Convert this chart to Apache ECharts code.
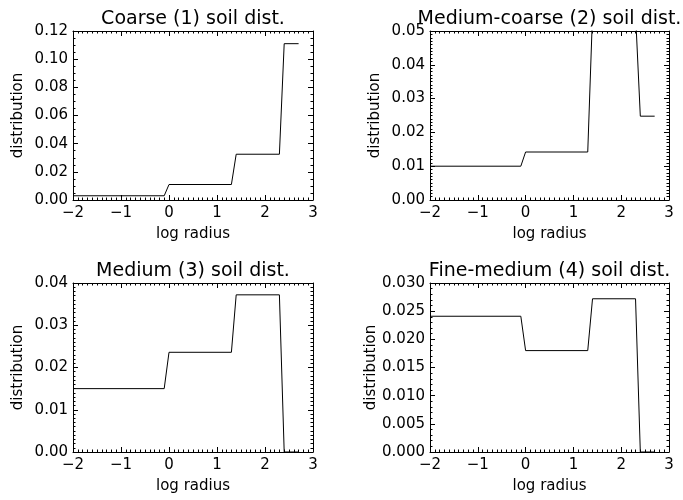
<!DOCTYPE html>
<html>
<head>
<meta charset="utf-8">
<title>Soil size distributions</title>
<script src="https://cdn.jsdelivr.net/npm/echarts@6/dist/echarts.min.js"></script>
<style>
  html, body { margin: 0; padding: 0; background: #fff; }
  #chart { width: 683px; height: 500px; }
</style>
</head>
<body>
<div id="chart"></div>
<script>
// break points of the piecewise distributions (log radius)
const logRadius = [-2, -0.1, 0, 1.3, 1.4, 2.3, 2.4, 2.7];

const coarse = [0.003, 0.003, 0.011, 0.011, 0.0325, 0.0325, 0.111, 0.111];
const mediumCoarse = [0.010, 0.010, 0.0142, 0.0142, 0.055, 0.055, 0.0248, 0.0248];
const medium = [0.015, 0.015, 0.0236, 0.0236, 0.0372, 0.0372, 0, 0];
const fineMedium = [0.0241, 0.0241, 0.018, 0.018, 0.0272, 0.0272, 0, 0];

const titles = [
  'Coarse (1) soil dist.',
  'Medium-coarse (2) soil dist.',
  'Medium (3) soil dist.',
  'Fine-medium (4) soil dist.'
];
const yMax = [0.12, 0.05, 0.04, 0.03];
const yStep = [0.02, 0.01, 0.01, 0.005];
const yDigits = [2, 2, 2, 3];
const yMinorSplit = [4, 10, 10, 5];
const xTicks = { min: -2, max: 3, interval: 1 };

const seriesData = [coarse, mediumCoarse, medium, fineMedium];

const chart = echarts.init(document.getElementById('chart'));

const font = 'DejaVu Sans';
const black = '#000';

// plot boxes in pixels
const boxes = [
  { left: 73, top: 31, width: 240, height: 169 },
  { left: 430, top: 31, width: 239, height: 169 },
  { left: 73, top: 283, width: 240, height: 169 },
  { left: 430, top: 283, width: 239, height: 169 }
];

const grid = [], xAxis = [], yAxis = [], series = [], title = [];

boxes.forEach((b, i) => {
  grid.push({ left: b.left, top: b.top, width: b.width, height: b.height, containLabel: false });

  title.push({
    text: titles[i],
    left: b.left + b.width / 2,
    top: b.top - 21,
    textAlign: 'center',
    padding: 0,
    textStyle: { fontFamily: font, fontSize: 19, fontWeight: 'normal', color: black }
  });

  const tickStyle = {
    axisLine: { show: true, onZero: false, lineStyle: { color: black, width: 1 } },
    axisTick: { show: true, inside: true, length: 5, lineStyle: { color: black } },
    splitLine: { show: false }
  };

  // bottom x axis with labels, top mirror
  xAxis.push(Object.assign({
    type: 'value', gridIndex: i, position: 'bottom',
    min: xTicks.min, max: xTicks.max, interval: xTicks.interval,
    name: 'log radius', nameLocation: 'middle', nameGap: 27,
    nameTextStyle: { fontFamily: font, fontSize: 15, color: black },
    axisLabel: {
      fontFamily: font, fontSize: 15, color: black, margin: 6,
      formatter: v => (v < 0 ? '\u2212' + Math.abs(v) : String(v))
    },
    minorTick: { show: true, splitNumber: 10, length: 2.5, lineStyle: { color: black } }
  }, tickStyle));
  xAxis.push(Object.assign({
    type: 'value', gridIndex: i, position: 'top',
    min: xTicks.min, max: xTicks.max, interval: xTicks.interval,
    axisLabel: { show: false },
    minorTick: { show: true, splitNumber: 10, length: 2.5, lineStyle: { color: black } }
  }, tickStyle));

  yAxis.push(Object.assign({
    type: 'value', gridIndex: i, position: 'left',
    min: 0, max: yMax[i], interval: yStep[i],
    name: 'distribution', nameLocation: 'middle', nameGap: 47, nameRotate: 90,
    nameTextStyle: { fontFamily: font, fontSize: 15, color: black },
    axisLabel: {
      fontFamily: font, fontSize: 15, color: black, margin: 5,
      formatter: v => v.toFixed(yDigits[i])
    },
    minorTick: { show: true, splitNumber: yMinorSplit[i], length: 2.5, lineStyle: { color: black } }
  }, tickStyle));
  yAxis.push(Object.assign({
    type: 'value', gridIndex: i, position: 'right',
    min: 0, max: yMax[i], interval: yStep[i],
    axisLabel: { show: false },
    minorTick: { show: true, splitNumber: yMinorSplit[i], length: 2.5, lineStyle: { color: black } }
  }, tickStyle));

  series.push({
    type: 'line',
    xAxisIndex: i * 2,
    yAxisIndex: i * 2,
    data: logRadius.map((x, k) => [x, seriesData[i][k]]),
    showSymbol: false,
    clip: true,
    lineStyle: { color: black, width: 1 },
    silent: true
  });
});

chart.setOption({
  animation: false,
  backgroundColor: '#fff',
  title, grid, xAxis, yAxis, series
});
</script>
</body>
</html>
